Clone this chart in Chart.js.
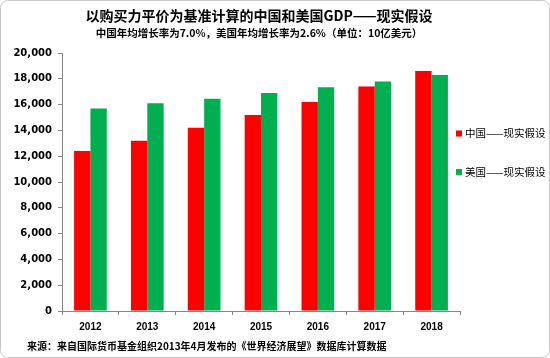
<!DOCTYPE html>
<html>
<head>
<meta charset="utf-8">
<script src="https://cdn.jsdelivr.net/npm/chart.js@4"></script>
<style>
  html, body { margin: 0; padding: 0; background: #fff; }
  #wrap { width: 550px; height: 358px; }
</style>
</head>
<body>
<div id="wrap"><canvas id="gdpChart" width="550" height="358"></canvas></div>
<script>
// Data (10亿美元)
const years = ["2012", "2013", "2014", "2015", "2016", "2017", "2018"];
const china = [12400, 13200, 14200, 15200, 16200, 17400, 18600];
const usa = [15700, 16100, 16450, 16900, 17350, 17800, 18300];
const seriesNames = ["中国——现实假设", "美国——现实假设"];
const seriesColors = ["#FF0000", "#00B050"];

const titleText = "以购买力平价为基准计算的中国和美国GDP——现实假设";
const subtitleText = "中国年均增长率为7.0%，美国年均增长率为2.6%（单位：10亿美元）";
const sourceText = "来源：来自国际货币基金组织2013年4月发布的《世界经济展望》数据库计算数据";

const CJK = "'Noto Sans CJK SC', 'Noto Sans', sans-serif";
const AXIS = "#868686";

// Frame, side legend and source line
const decor = {
  id: "decor",
  beforeDraw(chart) {
    const ctx = chart.ctx;
    ctx.save();
    ctx.fillStyle = "#fff";
    ctx.fillRect(0, 0, chart.width, chart.height);
    ctx.strokeStyle = "#c8c8c8";
    ctx.lineWidth = 1;
    ctx.beginPath();
    ctx.roundRect(0.5, 0.5, chart.width - 1, chart.height - 1, 7);
    ctx.stroke();
    ctx.restore();
  },
  afterDraw(chart) {
    const ctx = chart.ctx;
    ctx.save();
    ctx.font = "10.5px " + CJK;
    ctx.textBaseline = "middle";
    chart.data.datasets.forEach((ds, i) => {
      const cy = 133.5 + i * 38.5;
      ctx.fillStyle = ds.backgroundColor;
      ctx.fillRect(456, cy - 3, 6, 6);
      ctx.fillStyle = "#000";
      ctx.fillText(ds.label, 465, cy);
    });
    ctx.font = "bold 10px " + CJK;
    ctx.fillText(sourceText, 27, 346);
    ctx.restore();
  }
};

new Chart(document.getElementById("gdpChart"), {
  type: "bar",
  data: {
    labels: years,
    datasets: [
      { label: seriesNames[0], data: china, backgroundColor: seriesColors[0] },
      { label: seriesNames[1], data: usa, backgroundColor: seriesColors[1] }
    ]
  },
  options: {
    responsive: false,
    animation: false,
    devicePixelRatio: 1,
    layout: { padding: { left: 0, right: 32, top: 0, bottom: 25 } },
    datasets: {
      bar: { categoryPercentage: 0.575, barPercentage: 1.0, borderWidth: 0 }
    },
    plugins: {
      legend: { display: false },
      tooltip: { enabled: false },
      title: {
        display: true,
        text: titleText,
        color: "#000",
        font: { family: CJK, size: 14, weight: "bold" },
        padding: { top: 7, bottom: 1 }
      },
      subtitle: {
        display: true,
        text: subtitleText,
        color: "#000",
        font: { family: CJK, size: 10.5, weight: "bold" },
        padding: { top: 2, bottom: 13.6 }
      }
    },
    scales: {
      x: {
        grid: { display: true, drawOnChartArea: false, offset: true, tickLength: 4, color: AXIS },
        border: { color: AXIS },
        ticks: {
          color: "#000",
          padding: 6,
          font: { family: "'Liberation Sans', Arial, sans-serif", size: 10, weight: "bold" }
        },
        afterFit(scale) { scale.height = 22; }
      },
      y: {
        min: 0,
        max: 20000,
        grid: { display: true, drawOnChartArea: false, tickLength: 4, color: AXIS },
        border: { color: AXIS },
        ticks: {
          stepSize: 2000,
          color: "#000",
          padding: 6,
          font: { family: "'DejaVu Sans', sans-serif", size: 10, weight: "bold" },
          callback: v => v.toLocaleString("en-US")
        },
        afterFit(scale) { scale.width = 62; }
      },
      // empty right-hand spacer so the plot stops where the side legend starts
      y2: {
        position: "right",
        display: true,
        grid: { display: false },
        border: { display: false },
        ticks: { display: false },
        afterFit(scale) { scale.width = 58; }
      }
    }
  },
  plugins: [decor]
});
</script>
</body>
</html>
